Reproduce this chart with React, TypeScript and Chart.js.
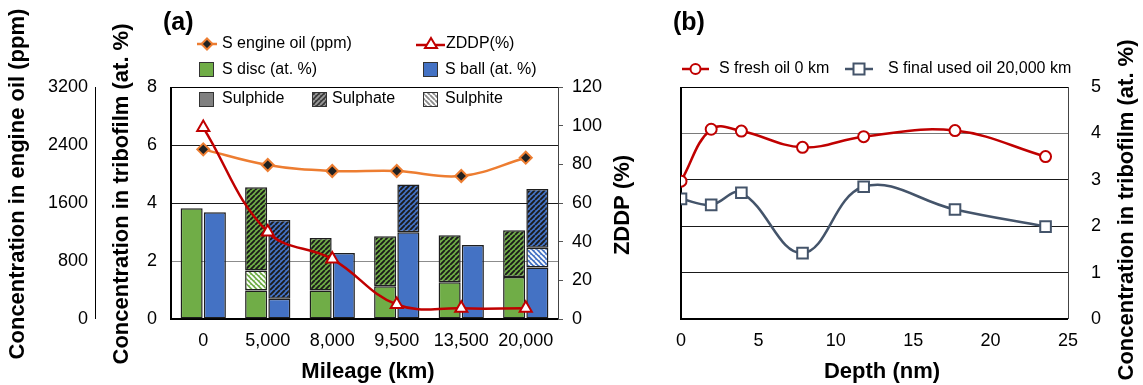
import React, { useEffect, useRef } from 'react';
import { Chart, registerables } from 'chart.js';

Chart.register(...registerables);

// ---------- Panel (a) data ----------
const mileage = ['0', '5,000', '8,000', '9,500', '13,500', '20,000'];
const discBase = [3.82, 0.98, 0.98, 1.13, 1.27, 1.45];
const discSulphite = [null, 0.69, null, null, null, null];
const discSulphate = [null, 2.87, 1.81, 1.72, 1.62, 1.61];
const ballBase = [3.68, 0.7, 2.28, 2.99, 2.55, 1.78];
const ballSulphite = [null, null, null, null, null, 0.68];
const ballSulphate = [null, 2.71, null, 1.65, null, 2.02];
const sEngineOil = [2340, 2124, 2041, 2041, 1972, 2225];
const zddp = [99, 45, 31, 7.5, 5.5, 5.5];

// ---------- Panel (b) data ----------
const depth = [0, 1.95, 3.9, 7.85, 11.8, 17.7, 23.55];
const sFresh = [2.97, 4.09, 4.05, 3.7, 3.93, 4.06, 3.5];
const sUsed = [2.59, 2.46, 2.72, 1.42, 2.85, 2.36, 1.99];

const FONT = '"Liberation Sans", Arial, Helvetica, sans-serif';
const GREEN = '#70AD47';
const BLUE = '#4472C4';
const ORANGE = '#ED7D31';
const RED = '#C00000';
const SLATE = '#44546A';
const BAR_BORDER = '#1e1e1e';

function hatch(bg: string, fg: string, dir: '/' | '\\', size = 5, lw = 1.9) {
  const c = document.createElement('canvas');
  c.width = size;
  c.height = size;
  const g = c.getContext('2d')!;
  g.fillStyle = bg;
  g.fillRect(0, 0, size, size);
  g.strokeStyle = fg;
  g.lineWidth = lw;
  g.beginPath();
  for (let k = -1; k <= 1; k++) {
    if (dir === '/') {
      g.moveTo(k * size, size);
      g.lineTo(k * size + size, 0);
    } else {
      g.moveTo(k * size, 0);
      g.lineTo(k * size + size, size);
    }
  }
  g.stroke();
  return g.createPattern(c, 'repeat')!;
}

function line(ctx: CanvasRenderingContext2D, x1: number, y1: number, x2: number, y2: number, color: string, w: number) {
  ctx.save();
  ctx.strokeStyle = color;
  ctx.lineWidth = w;
  ctx.beginPath();
  ctx.moveTo(x1, y1);
  ctx.lineTo(x2, y2);
  ctx.stroke();
  ctx.restore();
}

function text(ctx: CanvasRenderingContext2D, s: string, x: number, y: number, font: string, align: CanvasTextAlign = 'left', rot = 0) {
  ctx.save();
  ctx.translate(x, y);
  if (rot) ctx.rotate(rot);
  ctx.font = font;
  ctx.fillStyle = '#000';
  ctx.textAlign = align;
  ctx.textBaseline = 'middle';
  ctx.fillText(s, 0, 0);
  ctx.restore();
}

function square(ctx: CanvasRenderingContext2D, x: number, y: number, s: number, fill: any) {
  ctx.save();
  ctx.fillStyle = fill;
  ctx.fillRect(x, y, s, s);
  ctx.strokeStyle = '#333';
  ctx.lineWidth = 1;
  ctx.strokeRect(x + 0.5, y + 0.5, s - 1, s - 1);
  ctx.restore();
}

const TITLE = `bold 22px ${FONT}`;
const LEG = `16px ${FONT}`;
const TICK = { family: FONT, size: 18 };
const plain = (v: any) => String(v);

function PanelA() {
  const ref = useRef<HTMLCanvasElement>(null);
  useEffect(() => {
    const canvas = ref.current!;
    const gSulphate = hatch(GREEN, '#1a1a1a', '/');
    const bSulphate = hatch(BLUE, '#1a1a1a', '/');
    const gSulphite = hatch(GREEN, '#ffffff', '\\');
    const bSulphite = hatch(BLUE, '#ffffff', '\\');
    const legSulphate = hatch('#3a3a3a', '#9a9a9a', '/');
    const legSulphite = hatch('#ffffff', '#8a8a8a', '\\');

    const frame = {
      id: 'frameA',
      beforeDatasetsDraw(chart: any) {
        const { ctx, chartArea: a } = chart;
        line(ctx, a.left, a.top + 0.5, a.right, a.top + 0.5, '#000', 1);
        line(ctx, a.right + 0.5, a.top, a.right + 0.5, a.bottom, '#444', 1);
        line(ctx, a.left, a.top, a.left, a.bottom + 1, '#000', 2);
        line(ctx, a.left - 1, a.bottom, a.right, a.bottom, '#000', 2);
        const yo = chart.scales.yOil;
        line(ctx, yo.right - 0.5, a.top, yo.right - 0.5, a.bottom, '#000', 1);
      },
    };

    const deco = {
      id: 'decoA',
      afterDraw(chart: any) {
        const ctx = chart.ctx as CanvasRenderingContext2D;
        text(ctx, '(a)', 163, 23, `bold 25px ${FONT}`);
        text(ctx, 'Concentration in engine oil (ppm)', 18, 184, TITLE, 'center', -Math.PI / 2);
        text(ctx, 'Concentration in tribofilm (at. %)', 122, 194, TITLE, 'center', -Math.PI / 2);
        text(ctx, 'ZDDP (%)', 623, 205, TITLE, 'center', -Math.PI / 2);
        text(ctx, 'Mileage (km)', 368, 372, TITLE, 'center');
        // legend row 1
        line(ctx, 197, 44, 217, 44, ORANGE, 2.5);
        ctx.save();
        ctx.beginPath();
        ctx.moveTo(207, 38.5);
        ctx.lineTo(212.5, 44);
        ctx.lineTo(207, 49.5);
        ctx.lineTo(201.5, 44);
        ctx.closePath();
        ctx.fillStyle = '#222';
        ctx.fill();
        ctx.strokeStyle = ORANGE;
        ctx.lineWidth = 2;
        ctx.stroke();
        ctx.restore();
        text(ctx, 'S engine oil (ppm)', 222, 44, LEG);
        line(ctx, 416, 45, 445, 45, RED, 2.5);
        ctx.save();
        ctx.beginPath();
        ctx.moveTo(431, 38);
        ctx.lineTo(437, 48);
        ctx.lineTo(425, 48);
        ctx.closePath();
        ctx.fillStyle = '#fff';
        ctx.fill();
        ctx.strokeStyle = RED;
        ctx.lineWidth = 2;
        ctx.stroke();
        ctx.restore();
        text(ctx, 'ZDDP(%)', 446, 44, LEG);
        // row 2
        square(ctx, 199, 62, 15, GREEN);
        text(ctx, 'S disc (at. %)', 222, 70, LEG);
        square(ctx, 423, 62, 15, BLUE);
        text(ctx, 'S ball (at. %)', 445, 70, LEG);
        // row 3
        square(ctx, 199, 92, 15, '#808080');
        text(ctx, 'Sulphide', 222, 99, LEG);
        square(ctx, 312, 92, 15, legSulphate);
        text(ctx, 'Sulphate', 332, 99, LEG);
        square(ctx, 423, 92, 15, legSulphite);
        text(ctx, 'Sulphite', 445, 99, LEG);
      },
    };

    const barCommon = {
      type: 'bar' as const,
      yAxisID: 'y',
      borderColor: BAR_BORDER,
      borderWidth: 1.5,
      borderSkipped: false,
      barPercentage: 0.95,
      categoryPercentage: 0.72,
      order: 2,
    };

    const chart = new Chart(canvas, {
      type: 'bar',
      data: {
        labels: mileage,
        datasets: [
          { ...barCommon, label: 'S disc', data: discBase, backgroundColor: GREEN, stack: 'disc' },
          { ...barCommon, label: 'S disc sulphite', data: discSulphite, backgroundColor: gSulphite, stack: 'disc' },
          { ...barCommon, label: 'S disc sulphate', data: discSulphate, backgroundColor: gSulphate, stack: 'disc' },
          { ...barCommon, label: 'S ball', data: ballBase, backgroundColor: BLUE, stack: 'ball' },
          { ...barCommon, label: 'S ball sulphite', data: ballSulphite, backgroundColor: bSulphite, stack: 'ball' },
          { ...barCommon, label: 'S ball sulphate', data: ballSulphate, backgroundColor: bSulphate, stack: 'ball' },
          {
            type: 'line',
            label: 'S engine oil (ppm)',
            data: sEngineOil,
            yAxisID: 'yOil',
            borderColor: ORANGE,
            borderWidth: 2.5,
            tension: 0.4,
            pointStyle: 'rectRot',
            pointRadius: 6,
            pointBackgroundColor: '#222',
            pointBorderColor: ORANGE,
            pointBorderWidth: 2,
            fill: false,
            order: 1,
          },
          {
            type: 'line',
            label: 'ZDDP(%)',
            data: zddp,
            yAxisID: 'yZ',
            borderColor: RED,
            borderWidth: 2.5,
            tension: 0.4,
            pointStyle: 'triangle',
            pointRadius: 7,
            pointBackgroundColor: '#fff',
            pointBorderColor: RED,
            pointBorderWidth: 2,
            fill: false,
            order: 0,
          },
        ] as any,
      },
      options: {
        responsive: false,
        animation: false,
        devicePixelRatio: 1,
        layout: { padding: { top: 87, left: 0, right: 0, bottom: 0 } },
        plugins: { legend: { display: false }, tooltip: { enabled: false } },
        scales: {
          x: {
            stacked: true,
            grid: { display: false, drawTicks: false },
            border: { display: false },
            ticks: { font: TICK, color: '#000', padding: 11, maxRotation: 0, autoSkip: false },
            afterFit: (s: any) => { s.height = 66; },
          },
          yOil: {
            position: 'left',
            weight: 10,
            min: 0,
            max: 3200,
            ticks: { stepSize: 800, font: TICK, color: '#000', padding: 8, callback: plain },
            grid: { drawOnChartArea: false, drawTicks: false, color: 'rgba(0,0,0,0)' },
            border: { display: false },
            afterFit: (s: any) => { s.width = 96; },
          },
          y: {
            position: 'left',
            weight: 0,
            stacked: true,
            min: 0,
            max: 8,
            ticks: { stepSize: 2, font: TICK, color: '#000', padding: 14, callback: plain },
            grid: {
              drawTicks: false,
              lineWidth: 1,
              color: (c: any) => {
                const v = c.tick && c.tick.value;
                if (v === 2) return '#8c8c8c';
                if (v === 4 || v === 6) return '#1a1a1a';
                return 'rgba(0,0,0,0)';
              },
            },
            border: { display: false },
            afterFit: (s: any) => { s.width = 75; },
          },
          yZ: {
            position: 'right',
            min: 0,
            max: 120,
            ticks: { stepSize: 20, font: TICK, color: '#000', padding: 9, callback: plain },
            grid: { drawOnChartArea: false, drawTicks: true, tickLength: 5, color: '#555' },
            border: { display: false },
            afterFit: (s: any) => { s.width = 102; },
          },
        },
      } as any,
      plugins: [frame, deco],
    });
    return () => chart.destroy();
  }, []);
  return (
    <canvas
      ref={ref}
      width={660}
      height={385}
      style={{ position: 'absolute', left: 0, top: 0, width: 660, height: 385 }}
    />
  );
}

function PanelB() {
  const ref = useRef<HTMLCanvasElement>(null);
  useEffect(() => {
    const canvas = ref.current!;
    const frame = {
      id: 'frameB',
      beforeDatasetsDraw(chart: any) {
        const { ctx, chartArea: a } = chart;
        line(ctx, a.left, a.top + 0.5, a.right, a.top + 0.5, '#000', 1);
        line(ctx, a.right + 0.5, a.top, a.right + 0.5, a.bottom, '#444', 1);
        line(ctx, a.left, a.top, a.left, a.bottom + 1, '#000', 2);
        line(ctx, a.left - 1, a.bottom, a.right, a.bottom, '#000', 2);
      },
    };
    const deco = {
      id: 'decoB',
      afterDraw(chart: any) {
        const ctx = chart.ctx as CanvasRenderingContext2D;
        text(ctx, '(b)', 13, 23, `bold 25px ${FONT}`);
        text(ctx, 'Depth (nm)', 222, 372, TITLE, 'center');
        text(ctx, 'Concentration in tribofilm (at. %)', 467, 210, TITLE, 'center', -Math.PI / 2);
        // legend
        line(ctx, 22, 69, 49, 69, RED, 2.5);
        ctx.save();
        ctx.beginPath();
        ctx.arc(35.5, 69, 5, 0, Math.PI * 2);
        ctx.fillStyle = '#fff';
        ctx.fill();
        ctx.strokeStyle = RED;
        ctx.lineWidth = 2;
        ctx.stroke();
        ctx.restore();
        text(ctx, 'S fresh oil 0 km', 59, 69, LEG);
        line(ctx, 185, 69, 213, 69, SLATE, 2.5);
        ctx.save();
        ctx.fillStyle = '#fff';
        ctx.fillRect(193.5, 63.5, 11, 11);
        ctx.strokeStyle = SLATE;
        ctx.lineWidth = 2;
        ctx.strokeRect(193.5, 63.5, 11, 11);
        ctx.restore();
        text(ctx, 'S final used oil 20,000 km', 228, 69, LEG);
      },
    };
    const chart = new Chart(canvas, {
      type: 'line',
      data: {
        datasets: [
          {
            label: 'S fresh oil 0 km',
            data: depth.map((d, i) => ({ x: d, y: sFresh[i] })),
            borderColor: RED,
            borderWidth: 2.5,
            tension: 0.4,
            pointStyle: 'circle',
            pointRadius: 5.5,
            pointBackgroundColor: '#fff',
            pointBorderColor: RED,
            pointBorderWidth: 2,
            fill: false,
          },
          {
            label: 'S final used oil 20,000 km',
            data: depth.map((d, i) => ({ x: d, y: sUsed[i] })),
            borderColor: SLATE,
            borderWidth: 2.5,
            tension: 0.4,
            pointStyle: 'rect',
            pointRadius: 7.5,
            pointBackgroundColor: '#fff',
            pointBorderColor: SLATE,
            pointBorderWidth: 2,
            fill: false,
          },
        ],
      },
      options: {
        responsive: false,
        animation: false,
        devicePixelRatio: 1,
        layout: { padding: { top: 87, left: 21, right: 0, bottom: 0 } },
        plugins: { legend: { display: false }, tooltip: { enabled: false } },
        scales: {
          x: {
            type: 'linear',
            min: 0,
            max: 25,
            ticks: { stepSize: 5, font: TICK, color: '#000', padding: 11, maxRotation: 0 },
            grid: { display: false, drawTicks: false },
            border: { display: false },
            afterFit: (s: any) => { s.height = 66; },
          },
          y: {
            position: 'right',
            min: 0,
            max: 5,
            ticks: { stepSize: 1, font: TICK, color: '#000', padding: 23 },
            grid: {
              drawTicks: false,
              lineWidth: 1,
              color: (c: any) => {
                const v = c.tick && c.tick.value;
                if (v === 4) return '#7a7a7a';
                if (v >= 1 && v <= 3) return '#1a1a1a';
                return 'rgba(0,0,0,0)';
              },
            },
            border: { display: false },
            afterFit: (s: any) => { s.width = 75; },
          },
        },
      } as any,
      plugins: [frame, deco],
    });
    return () => chart.destroy();
  }, []);
  return (
    <canvas
      ref={ref}
      width={483}
      height={385}
      style={{ position: 'absolute', left: 660, top: 0, width: 483, height: 385 }}
    />
  );
}

export default function App() {
  return (
    <div style={{ position: 'absolute', left: 0, top: 0, width: 1143, height: 385, background: '#fff', overflow: 'hidden' }}>
      <PanelA />
      <PanelB />
    </div>
  );
}
